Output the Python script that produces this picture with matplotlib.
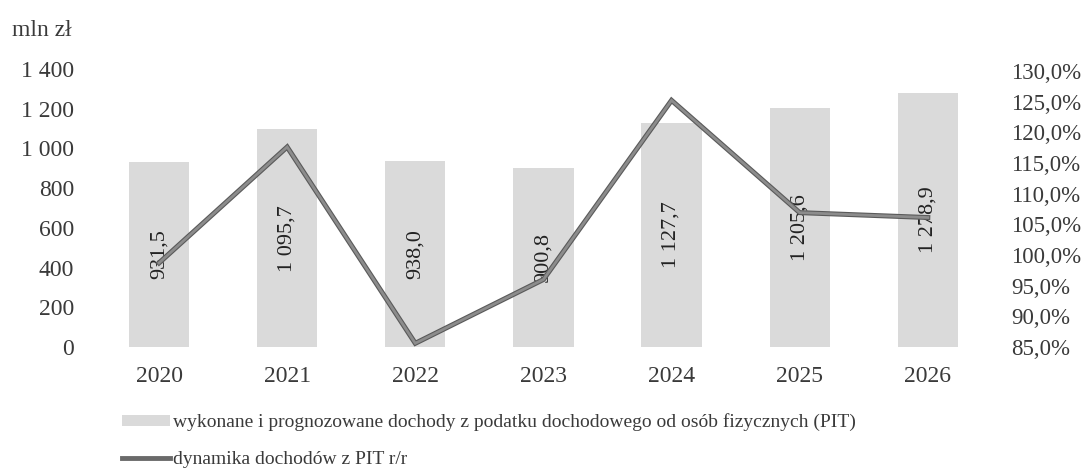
import numpy as np
import matplotlib
matplotlib.use("Agg")
import matplotlib.pyplot as plt
from matplotlib.ticker import FuncFormatter
from matplotlib.patches import Patch
from matplotlib.lines import Line2D

# Dane
years = ["2020", "2021", "2022", "2023", "2024", "2025", "2026"]
pit = [931.5, 1095.7, 938.0, 900.8, 1127.7, 1205.6, 1278.9]
dyn = [98.7, 117.6, 85.6, 96.0, 125.2, 106.9, 106.1]

bar_label = "wykonane i prognozowane dochody z podatku dochodowego od osób fizycznych (PIT)"
line_label = "dynamika dochodów z PIT r/r"

txt = "#3a3a3a"
plt.rcParams["font.family"] = ["Liberation Serif", "DejaVu Serif"]
plt.rcParams["font.size"] = 17
plt.rcParams["text.color"] = txt


def pl_num(v, dec=0):
    s = f"{v:,.{dec}f}"
    return s.replace(",", " ").replace(".", ",")


fig = plt.figure(figsize=(10.84, 4.73), dpi=100)
ax = fig.add_axes([0.0876, 0.2664, 0.8274, 0.5876])
x = np.arange(len(years))

# słupki
bars = ax.bar(x, pit, width=0.47, color="#dadada")
ax.bar_label(bars, labels=[pl_num(v, 1) for v in pit], label_type="center",
             rotation=90, color="#222222", fontsize=16)
ax.set_ylim(0, 1400)
ax.set_yticks(np.arange(0, 1401, 200))
ax.yaxis.set_major_formatter(FuncFormatter(lambda v, p: pl_num(v)))
ax.set_xlim(-0.5, len(years) - 0.5)
ax.set_xticks(x)
ax.set_xticklabels(years)

# linia dynamiki
ax2 = ax.twinx()
ax2.plot(x, dyn, color="#5a5a5a", lw=3.6, solid_joinstyle="miter", zorder=3)
ax2.plot(x, dyn, color="#8c8c8c", lw=2.0, solid_joinstyle="miter", zorder=4)
ax2.set_ylim(85.9, 130.3)
ax2.set_yticks(np.arange(85, 131, 5))
ax2.yaxis.set_major_formatter(FuncFormatter(lambda v, p: pl_num(v, 1) + "%"))

for a in (ax, ax2):
    for s in a.spines.values():
        s.set_visible(False)
    a.tick_params(length=0, colors=txt)
ax.tick_params(axis="x", pad=14, labelsize=17)
ax.tick_params(axis="y", pad=15, labelsize=17)
ax2.tick_params(axis="y", pad=14, labelsize=16.5)

fig.text(12 / 1084, 1 - 30 / 473, "mln zł", va="center", ha="left", fontsize=17)

# legenda
handles = [Patch(facecolor="#dadada", edgecolor="none"),
           Line2D([], [], color="#6a6a6a", lw=3.5)]
fig.legend(handles, [bar_label, line_label], loc="upper left",
           bbox_to_anchor=(104 / 1084, 1 - 396 / 473), frameon=False,
           handlelength=2.5, handleheight=0.52, handletextpad=0.15,
           labelspacing=1.0, fontsize=14)

fig.savefig("out.png", dpi=100)
